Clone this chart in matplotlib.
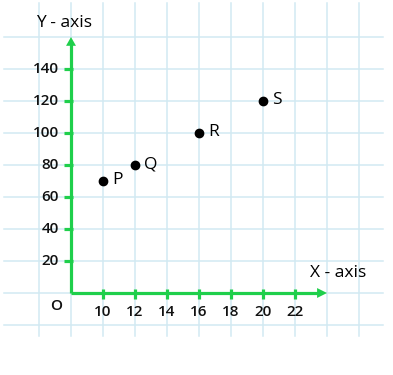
import matplotlib.pyplot as plt
from matplotlib.patches import FancyArrow

# data
point_names = ["P", "Q", "R", "S"]
point_x = [10, 12, 16, 20]
point_y = [70, 80, 100, 120]
x_ticks = [10, 12, 14, 16, 18, 20, 22]
y_ticks = [20, 40, 60, 80, 100, 120, 140]

GREEN = "#1fcf4b"
GRID = "#d2eaf2"

plt.rcParams['font.family'] = ['Open Sans', 'DejaVu Sans']

fig = plt.figure(figsize=(3.93, 3.75), dpi=100)
ax = fig.add_axes([0, 0, 1, 1])
# pixel mapping: x=8 at px 71, 16 px per unit; y=0 at px 293, 1.6 px per unit
ax.set_xlim(8 - 71 / 16, 8 + (393 - 71) / 16)
ax.set_ylim((293 - 375) / 1.6, 293 / 1.6)
ax.axis('off')

# graph paper grid
for gx in range(6, 27, 2):
    ax.plot([gx, gx], [-26.9, 181.2], color=GRID, lw=1.1, zorder=1)
for gy in range(-20, 161, 20):
    ax.plot([3.8, 27.5], [gy, gy], color=GRID, lw=1.1, zorder=1)

# axes with arrows
ax.plot([8, 8], [0, 156], color=GREEN, lw=2.3, solid_capstyle='butt', zorder=3)
ax.plot([8, 23.5], [0, 0], color=GREEN, lw=2.3, solid_capstyle='butt', zorder=3)
ax.add_patch(FancyArrow(8, 154, 0, 6, width=0, head_width=0.62, head_length=5.5,
                        length_includes_head=True, color=GREEN, lw=0, zorder=3))
ax.add_patch(FancyArrow(23, 0, 1, 0, width=0, head_width=6.2, head_length=0.62,
                        length_includes_head=True, color=GREEN, lw=0, zorder=3))

# ticks
for t in x_ticks:
    ax.plot([t, t], [-3.6, 2.4], color=GREEN, lw=2.3, solid_capstyle='butt', zorder=3)
    ax.text(t, -7.5, str(t), ha='center', va='top', fontsize=11,
            fontweight='semibold', color='#111111')
for t in y_ticks:
    ax.plot([7.55, 8.12], [t, t], color=GREEN, lw=2.3, solid_capstyle='butt', zorder=3)
    ax.text(7.25, t, str(t), ha='right', va='center', fontsize=11,
            fontweight='semibold', color='#111111')

ax.text(7.1, -8, "O", ha='center', va='center', fontsize=11,
        fontweight='semibold', color='#111111')
ax.text(7.55, 163.5, "Y - axis", ha='center', va='bottom', fontsize=12.5)
ax.text(24.7, 7.5, "X - axis", ha='center', va='bottom', fontsize=12.5)

# points
ax.scatter(point_x, point_y, s=36, color='black', zorder=4)
for name, px, py in zip(point_names, point_x, point_y):
    ax.text(px + 0.55, py + 0.5, name, ha='left', va='center', fontsize=12.5)

fig.savefig("out.png", dpi=100)
